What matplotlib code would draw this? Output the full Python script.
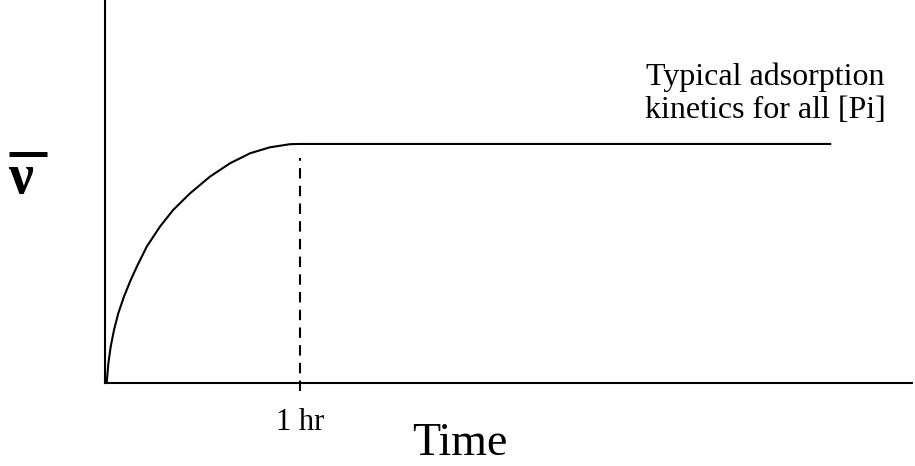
import matplotlib.pyplot as plt
from matplotlib.lines import Line2D

plt.rcParams['font.family'] = ['Liberation Serif', 'DejaVu Serif']

# adsorption curve (time in hr, relative uptake)
time_hr = [0.0, 0.009, 0.017, 0.029, 0.046, 0.068, 0.097, 0.128, 0.163, 0.214,
           0.282, 0.350, 0.436, 0.538, 0.641, 0.744, 0.846, 0.949, 1.0, 3.72]
uptake = [0.0, 0.004, 0.081, 0.151, 0.221, 0.291, 0.360, 0.423, 0.486, 0.570,
          0.654, 0.724, 0.793, 0.863, 0.919, 0.961, 0.986, 0.999, 1.0, 1.0]

tick_pos = [1.0]
tick_labels = ['1 hr']

fig = plt.figure(figsize=(9.15, 4.66), dpi=100)
ax = fig.add_axes([0.1148, 0.1788, 0.882, 0.8212])

ax.plot(time_hr, uptake, color='black', lw=1.5, solid_joinstyle='round')
# dashed marker at 1 hr, running a little below the axis
ax.plot([tick_pos[0], tick_pos[0]], [-0.035, 0.94], color='black', lw=1.5,
        linestyle=(0, (5, 3.5)), clip_on=False)

ax.set_xlim(0, 4.14)
ax.set_ylim(0, 1.603)
for s in ['top', 'right']:
    ax.spines[s].set_visible(False)
for s in ['left', 'bottom']:
    ax.spines[s].set_linewidth(1.5)
ax.set_xticks([])
ax.set_yticks([])

for p, lab in zip(tick_pos, tick_labels):
    ax.text(p, -0.105, lab, ha='center', va='top', fontsize=22)

# texts placed in pixel positions measured from the top-left
fig.text(460 / 915, 0.003, 'Time', ha='center', va='bottom', fontsize=33)
fig.text(765 / 915, 1 - 85 / 466, 'Typical adsorption', ha='center', va='baseline', fontsize=23)
fig.text(765 / 915, 1 - 118 / 466, 'kinetics for all [Pi]', ha='center', va='baseline', fontsize=23)

# y label: nu with a heavy bar above
fig.text(21 / 915, 1 - 193 / 466, 'ν', ha='center', va='baseline', fontsize=40,
         fontweight='bold')
fig.add_artist(Line2D([9 / 915, 47 / 915], [1 - 153.5 / 466, 1 - 153.5 / 466],
                      color='black', lw=3.6, solid_capstyle='butt'))

fig.savefig('out.png', dpi=100)
